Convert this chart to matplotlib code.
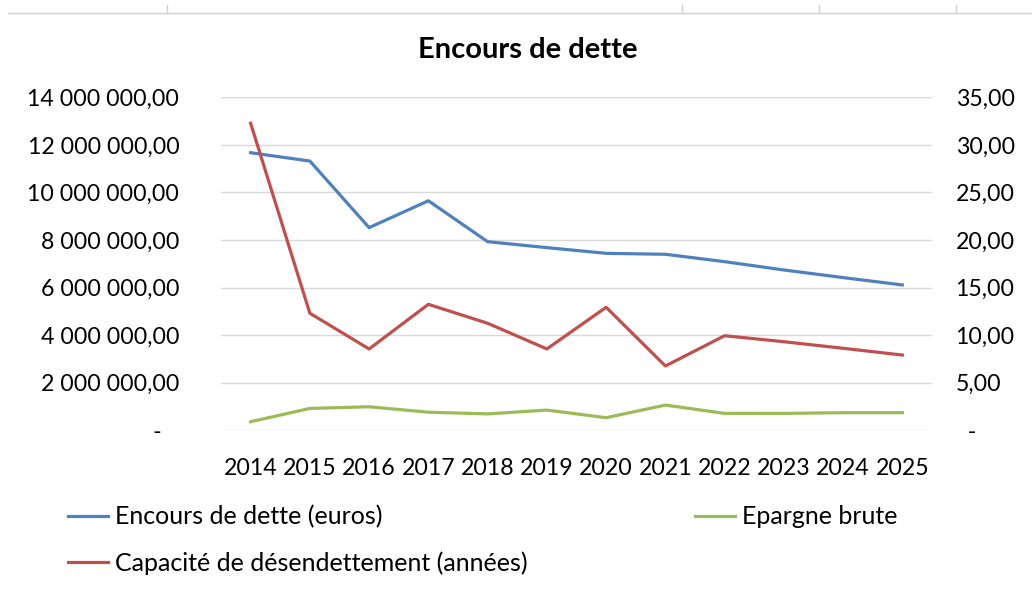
import matplotlib.pyplot as plt
from matplotlib.lines import Line2D
from matplotlib.ticker import FuncFormatter, MultipleLocator

plt.rcParams['font.family'] = ['Lato', 'DejaVu Sans']

years = ["2014", "2015", "2016", "2017", "2018", "2019",
         "2020", "2021", "2022", "2023", "2024", "2025"]
encours = [11670000, 11320000, 8520000, 9650000, 7930000, 7680000,
           7440000, 7400000, 7090000, 6740000, 6420000, 6110000]
epargne = [360000, 920000, 990000, 760000, 690000, 850000,
           530000, 1060000, 710000, 710000, 740000, 740000]
capacite = [32.27, 12.3, 8.55, 13.24, 11.25, 8.55,
            12.93, 6.76, 9.94, 9.31, 8.62, 7.91]

blue = "#4F81BD"
red = "#C0504D"
green = "#9BBB59"
grid = "#D9D9D9"
fs = 16.7


def fmt_left(v, pos):
    if abs(v) < 1e-6:
        return "-   "
    return format(v, ",.2f").replace(",", " ").replace(".", ",")


def fmt_right(v, pos):
    if abs(v) < 1e-9:
        return "  -"
    return format(v, ".2f").replace(".", ",")


fig = plt.figure(figsize=(10.32, 5.91), dpi=100)
ax = fig.add_axes([221 / 1032, 1 - 430.3 / 591, (932 - 221) / 1032, (430.3 - 97.3) / 591])
ax2 = ax.twinx()

x = list(range(len(years)))
l1, = ax.plot(x, encours, color=blue, lw=2.3, label="Encours de dette (euros)")
l2, = ax.plot(x, epargne, color=green, lw=2.3, label="Epargne brute")
l3, = ax2.plot(x, capacite, color=red, lw=2.3, label="Capacité de désendettement (années)")

ax.set_xlim(-0.5, len(years) - 0.5)
ax.set_ylim(0, 14000000)
ax2.set_ylim(0, 35)
ax.yaxis.set_major_locator(MultipleLocator(2000000))
ax2.yaxis.set_major_locator(MultipleLocator(5))
ax.yaxis.set_major_formatter(FuncFormatter(fmt_left))
ax2.yaxis.set_major_formatter(FuncFormatter(fmt_right))
ax.set_xticks(x)
ax.set_xticklabels(years)

ax.grid(axis="y", color=grid, lw=1)
ax.set_axisbelow(True)
for a in (ax, ax2):
    for s in a.spines.values():
        s.set_visible(False)
    a.tick_params(length=0, labelsize=fs, colors="black")
ax.tick_params(axis="y", pad=30)
ax.tick_params(axis="x", pad=20)
ax2.tick_params(axis="y", pad=17)

fig.text(528 / 1032, 1 - 50 / 591, "Encours de dette", ha="center", va="center",
         fontsize=21, fontweight="bold")

fig.legend([l1, l3, l2], [l1.get_label(), l3.get_label(), l2.get_label()],
           ncol=2, frameon=False, fontsize=18, loc="upper left",
           bbox_to_anchor=(68 / 1032, 1 - 505 / 591), borderaxespad=0, borderpad=0,
           handlelength=1.6, handletextpad=0.28, columnspacing=6.7, labelspacing=0.92)

# thin sheet border at the top of the screenshot
fig.add_artist(Line2D([8 / 1032, 1], [1 - 13 / 591] * 2, color="#D0D0D0", lw=1))
for xp in (167, 682, 819, 956):
    fig.add_artist(Line2D([xp / 1032] * 2, [1 - 5 / 591, 1 - 13 / 591], color="#D0D0D0", lw=1))

fig.savefig("out.png", dpi=100)
